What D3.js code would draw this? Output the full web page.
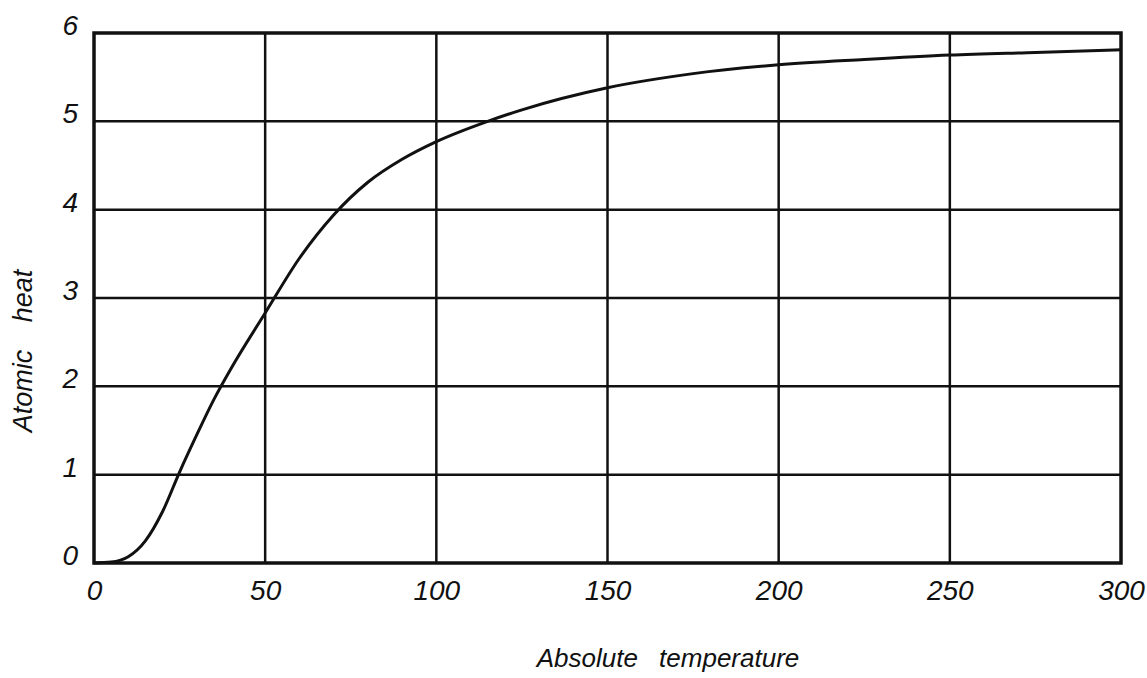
<!DOCTYPE html>
<html>
<head>
<meta charset="utf-8">
<script src="https://cdn.jsdelivr.net/npm/d3@7"></script>
<style>
  body { margin: 0; background: #fff; }
  text { font-family: "Liberation Sans", "DejaVu Sans", sans-serif; font-style: italic; fill: #111; }
</style>
</head>
<body>
<svg id="chart" width="1147" height="678"></svg>
<script>
  // absolute temperature (K) and atomic heat
  const temps = [0, 5, 10, 15, 20, 25, 30, 35, 40, 50, 60, 70, 80, 90, 100, 115, 125, 150, 175, 200, 225, 250, 275, 300]
  const heats = [0, 0.01, 0.07, 0.25, 0.58, 1.03, 1.45, 1.85, 2.2, 2.83, 3.45, 3.94, 4.31, 4.57, 4.77, 5.0, 5.13, 5.38, 5.54, 5.64, 5.7, 5.75, 5.78, 5.81]
  const xTicks = [0, 50, 100, 150, 200, 250, 300]
  const yTicks = [0, 1, 2, 3, 4, 5, 6]

  const plotLeft = 94
  const plotRight = 1121
  const plotTop = 33
  const plotBottom = 563

  const x = d3.scaleLinear().domain([0, 300]).range([plotLeft, plotRight])
  const y = d3.scaleLinear().domain([0, 6]).range([plotBottom, plotTop])

  const svg = d3.select('#chart')

  // grid
  svg.append('g').selectAll('line').data(xTicks.slice(1, -1)).join('line')
    .attr('x1', d => x(d)).attr('x2', d => x(d))
    .attr('y1', plotTop).attr('y2', plotBottom)
    .style('stroke', '#111').style('stroke-width', 2.5)
  svg.append('g').selectAll('line').data(yTicks.slice(1, -1)).join('line')
    .attr('x1', plotLeft).attr('x2', plotRight)
    .attr('y1', d => y(d)).attr('y2', d => y(d))
    .style('stroke', '#111').style('stroke-width', 2.5)

  // frame
  svg.append('rect')
    .attr('x', plotLeft).attr('y', plotTop)
    .attr('width', plotRight - plotLeft).attr('height', plotBottom - plotTop)
    .style('fill', 'none').style('stroke', '#111').style('stroke-width', 3.5)

  // tick labels via axes, lines hidden
  const xAxis = svg.append('g')
    .attr('transform', `translate(0,${plotBottom})`)
    .call(d3.axisBottom(x).tickValues(xTicks).tickFormat(d3.format('d')).tickSize(0).tickPadding(27))
  const yAxis = svg.append('g')
    .attr('transform', `translate(${plotLeft},0)`)
    .call(d3.axisLeft(y).tickValues(yTicks).tickFormat(d3.format('d')).tickSize(0).tickPadding(16))
  for (const a of [xAxis, yAxis]) {
    a.select('.domain').remove()
    a.selectAll('text').style('font-size', '28px').style('font-family', '"Liberation Sans", sans-serif')
  }
  xAxis.selectAll('text').attr('dy', '0.35em')
  yAxis.selectAll('text').attr('dy', '0.05em')

  // curve
  const line = d3.line()
    .x((d, i) => x(temps[i]))
    .y(d => y(d))
    .curve(d3.curveMonotoneX)
  svg.append('path')
    .datum(heats)
    .attr('d', line)
    .style('fill', 'none')
    .style('stroke', '#111')
    .style('stroke-width', 3)

  // axis titles
  svg.append('text')
    .attr('x', 668).attr('y', 667)
    .style('text-anchor', 'middle')
    .style('font-size', '26px')
    .style('word-spacing', '14px')
    .text('Absolute temperature')
  svg.append('text')
    .attr('transform', 'translate(32,351) rotate(-90)')
    .style('text-anchor', 'middle')
    .style('font-size', '27px')
    .style('word-spacing', '20px')
    .text('Atomic heat')
</script>
</body>
</html>
